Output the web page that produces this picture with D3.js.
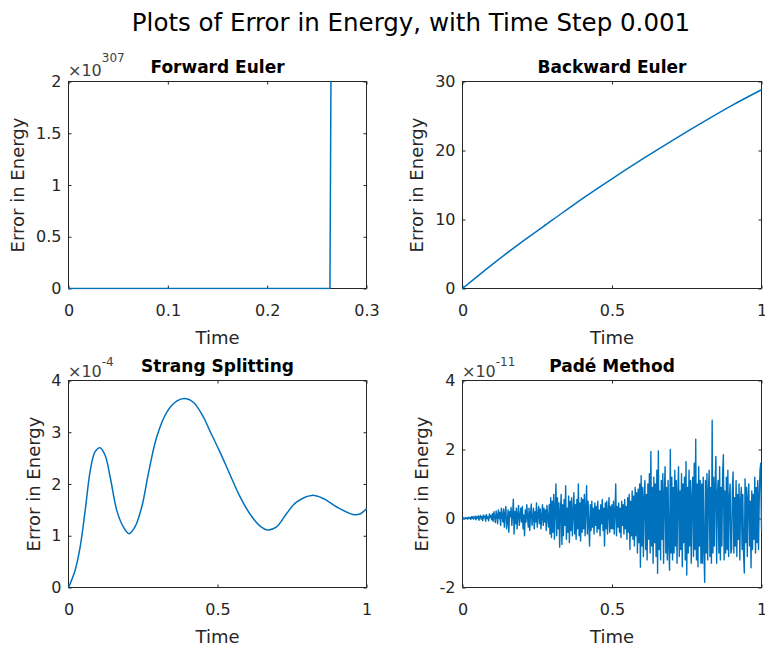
<!DOCTYPE html>
<html><head><meta charset="utf-8">
<script src="https://cdn.jsdelivr.net/npm/d3@7"></script>
<style>
body{margin:0;background:#fff}
svg{display:block}
text{font-family:"DejaVu Sans",sans-serif}
</style>
</head><body>
<svg id="chart" width="765" height="646"></svg>
<script>
// ---------------- data ----------------
const mainTitle = "Plots of Error in Energy, with Time Step 0.001";
const panelTitles = ["Forward Euler", "Backward Euler", "Strang Splitting", "Padé Method"];
const xLabel = "Time";
const yLabel = "Error in Energy";

// Forward Euler (values in units of 1e307)
const feTime = [0, 0.2632, 0.2642];
const feError = [0, 0, 2.0];
const feXTicks = [0, 0.1, 0.2, 0.3];
const feXLabels = ["0", "0.1", "0.2", "0.3"];
const feYTicks = [0, 0.5, 1, 1.5, 2];
const feYLabels = ["0", "0.5", "1", "1.5", "2"];
const feExponent = "307";

// Backward Euler
const beTime = [0, 0.1, 0.2, 0.3, 0.4, 0.5, 0.6, 0.7, 0.8, 0.9, 1.0];
const beError = [0, 3.5, 6.8, 9.9, 13.0, 15.9, 18.7, 21.4, 24.0, 26.5, 28.8];
const beXTicks = [0, 0.5, 1];
const beXLabels = ["0", "0.5", "1"];
const beYTicks = [0, 10, 20, 30];
const beYLabels = ["0", "10", "20", "30"];

// Strang Splitting (values in units of 1e-4)
const ssTime = [0, 0.022, 0.039, 0.056, 0.073, 0.089, 0.106, 0.123, 0.140, 0.162, 0.184, 0.203,
  0.223, 0.246, 0.268, 0.296, 0.330, 0.363, 0.391, 0.419, 0.452, 0.475, 0.508, 0.542, 0.575,
  0.609, 0.642, 0.670, 0.698, 0.732, 0.765, 0.816, 0.855, 0.899, 0.955, 0.978, 1.0];
const ssError = [0, 0.33, 0.78, 1.49, 2.26, 2.62, 2.70, 2.55, 2.13, 1.49, 1.17, 1.04,
  1.17, 1.56, 2.20, 2.91, 3.39, 3.60, 3.65, 3.58, 3.30, 3.02, 2.62, 2.18, 1.76,
  1.42, 1.19, 1.11, 1.17, 1.43, 1.65, 1.78, 1.72, 1.56, 1.41, 1.42, 1.52];
const ssXTicks = [0, 0.5, 1];
const ssXLabels = ["0", "0.5", "1"];
const ssYTicks = [0, 1, 2, 3, 4];
const ssYLabels = ["0", "1", "2", "3", "4"];
const ssExponent = "-4";

// Padé Method (values in units of 1e-11), sampled every 0.0025 in time
const pmError = [
  0, 0.02, -0.01, 0.01, 0.03, 0.0, 0.02, -0.02, 0.04, 0.01, 0.03, -0.03, 0.05, 0.0, 0.06, -0.02, 0.03, 0.07, -0.04, 0.05,
  0.01, 0.08, -0.05, 0.04, 0.09, -0.02, 0.06, -0.06, 0.1, 0.02, 0.07, -0.08, 0.12, 0.0, 0.05, -0.07, 0.13, 0.03, 0.09, -0.04,
  0.14, -0.08, 0.2, 0.05, -0.12, 0.22, 0.1, -0.15, 0.25, 0.0, 0.18, -0.2, 0.3, 0.08, -0.1, 0.28, -0.25, 0.15, 0.35, -0.3,
  -0.1, 0.25, -0.4, 0.2, 0.05, 0.32, -0.2, 0.1, 0.56, -0.45, 0.2, -0.15, 0.3, -0.3, 0.12, 0.38, -0.2, 0.05, 0.3, -0.1,
  0.35, -0.3, 0.1, -0.5, 0.25, -0.1, 0.4, 0.05, -0.25, 0.3, -0.35, 0.15, 0.42, -0.2, 0.0, 0.3, -0.3, 0.2, -0.1, 0.45,
  -0.25, 0.1, 0.35, -0.15, 0.28, -0.3, 0.05, 0.4, -0.2, 0.3, -0.1, 0.25, -0.35, 0.38, 0.0, -0.25, 0.4, -0.45, 0.6, -0.55,
  0.5, -0.4, 0.7, -0.6, 0.3, 1.0, -0.5, 0.6, -0.3, 0.45, -0.83, 0.2, 0.7, -0.75, 0.4, -0.5, 0.55, -0.2, 0.95, -0.6,
  0.3, -0.4, 0.65, -0.7, 0.5, -0.35, 0.6, -0.5, 0.2, 0.75, -0.45, 0.4, -0.6, 0.55, -0.3, 1.0, -0.5, 0.45, -0.65, 0.6,
  -0.4, 0.55, -0.3, 0.7, -0.5, 0.3, 0.95, -0.45, 0.5, -0.2, -0.8, 0.4, -0.35, 0.5, -0.25, 0.3, -0.45, 0.45, -0.2, 0.35,
  -0.4, 0.5, -0.3, 0.25, -0.5, 0.4, -0.15, 0.55, -0.35, 0.3, -0.8, 0.45, -0.3, 0.5, -0.45, 0.2, 0.6, -0.4, 0.35, -0.3,
  0.4, -0.3, 0.5, -0.45, 0.2, 1.0, -0.5, 0.35, -0.25, 0.45, -0.4, 0.3, -0.55, 0.5, -0.2, 0.4, -0.45, 0.55, -0.3, 0.35,
  -0.6, 0.6, -0.4, 0.7, -0.9, 0.5, -0.5, 0.8, -0.6, 0.65, -0.8, 0.9, -0.5, 0.75, -1.0, 0.85, -0.7, 1.0, -1.41, 1.24,
  -0.8, 0.9, -1.1, 0.6, 1.1, -0.9, 0.7, -1.2, 1.0, -0.6, 1.3, -1.0, 1.94, -0.8, 0.9, -1.3, 1.2, -0.7, 1.0, -1.1,
  1.4, -1.59, 1.96, -0.9, 0.8, -1.2, 1.1, -0.6, 1.3, -1.3, 0.7, 1.5, -1.0, 0.9, -1.2, 1.1, -0.8, -1.5, 2.0, -1.0,
  1.2, -1.2, 0.9, -1.0, 1.4, -0.8, 1.1, -1.3, 0.7, 1.5, -1.1, 0.8, -0.9, 1.3, -1.4, 1.0, -0.7, 1.2, -1.2, 1.65,
  -1.64, 0.9, -1.0, 1.4, -0.8, 1.1, -1.3, 0.6, 1.2, -1.1, 1.6, -0.9, 2.3, -1.2, 1.0, -1.4, 1.5, -0.8, 1.1, -1.3,
  1.0, -1.3, 1.2, -0.9, -1.85, 1.1, -1.0, 1.3, -1.2, 0.8, 1.4, -1.1, 0.9, -1.3, 2.85, -1.0, 1.2, -0.8, 1.0, 1.8,
  -1.3, 0.7, 1.1, -1.0, 1.5, -1.2, 0.9, -0.8, 1.3, 1.85, -1.2, 0.8, -1.0, 1.2, -0.9, 1.4, -1.1, 0.6, 1.0, -1.0,
  -0.9, 0.8, 1.35, -1.0, 0.6, -0.8, 1.1, -1.1, 0.7, -0.6, 1.0, -1.2, 0.5, 0.9, -0.9, 0.7, -1.0, -1.58, 1.15, -0.7,
  0.9, -1.1, 0.6, 1.0, -0.8, 0.5, -1.43, 0.8, -0.9, 0.7, -0.6, 1.2, -1.0, 0.9, -0.7, 1.1, -0.9, 0.6, 1.4, 1.6,
  -0.35
];
const pmTimeStep = 0.0025;
const pmTime = pmError.map((d, i) => i * pmTimeStep);
const pmXTicks = [0, 0.5, 1];
const pmXLabels = ["0", "0.5", "1"];
const pmYTicks = [-2, 0, 2, 4];
const pmYLabels = ["-2", "0", "2", "4"];
const pmExponent = "-11";

// ---------------- layout ----------------
const svg = d3.select("#chart");
const lineColor = "#0072BD";
const axisColor = "#262626";

const panels = [
  {title: panelTitles[0], t: feTime, v: feError, xd: [0, 0.3], yd: [0, 2],
   xt: feXTicks, xl: feXLabels, yt: feYTicks, yl: feYLabels, exp: feExponent,
   box: {l: 68.5, r: 366.5, t: 81.5, b: 288.5}, ylx: 23.5, expY: 76, expDy: -14, lw: 1.5, curve: d3.curveLinear},
  {title: panelTitles[1], t: beTime, v: beError, xd: [0, 1], yd: [0, 30],
   xt: beXTicks, xl: beXLabels, yt: beYTicks, yl: beYLabels, exp: null,
   box: {l: 462.5, r: 761.5, t: 81.5, b: 288.5}, ylx: 423, lw: 1.5, curve: d3.curveCatmullRom.alpha(0.5)},
  {title: panelTitles[2], t: ssTime, v: ssError, xd: [0, 1], yd: [0, 4],
   xt: ssXTicks, xl: ssXLabels, yt: ssYTicks, yl: ssYLabels, exp: ssExponent,
   box: {l: 68.5, r: 366.5, t: 380.5, b: 587.5}, ylx: 40, expY: 377, expDy: -11, lw: 1.5, curve: d3.curveCatmullRom.alpha(0.5)},
  {title: panelTitles[3], t: pmTime, v: pmError, xd: [0, 1], yd: [-2, 4],
   xt: pmXTicks, xl: pmXLabels, yt: pmYTicks, yl: pmYLabels, exp: pmExponent,
   box: {l: 462.5, r: 761.5, t: 380.5, b: 587.5}, ylx: 428, expY: 377, expDy: -11, lw: 1.4, curve: d3.curveLinear}
];

svg.append("text")
  .attr("x", 411).attr("y", 31)
  .attr("text-anchor", "middle")
  .attr("font-size", 24.5)
  .attr("fill", "#000")
  .text(mainTitle);

panels.forEach((p, idx) => {
  const b = p.box;
  const x = d3.scaleLinear().domain(p.xd).range([b.l, b.r]);
  const y = d3.scaleLinear().domain(p.yd).range([b.b, b.t]);
  const g = svg.append("g");

  // clip (slightly larger than the box so edge lines stay visible)
  const cid = "clip" + idx;
  svg.append("clipPath").attr("id", cid).append("rect")
    .attr("x", b.l - 1).attr("y", b.t - 1).attr("width", b.r - b.l + 2).attr("height", b.b - b.t + 2);

  // axes
  const fmtX = (d, i) => p.xl[i];
  const fmtY = (d, i) => p.yl[i];
  const ax = g.append("g").attr("transform", `translate(0,${b.b})`)
    .call(d3.axisBottom(x).tickValues(p.xt).tickFormat(fmtX).tickSize(-3).tickPadding(16));
  const axT = g.append("g").attr("transform", `translate(0,${b.t})`)
    .call(d3.axisTop(x).tickValues(p.xt).tickFormat("").tickSize(-3));
  const ay = g.append("g").attr("transform", `translate(${b.l},0)`)
    .call(d3.axisLeft(y).tickValues(p.yt).tickFormat(fmtY).tickSize(-3).tickPadding(7));
  const ayR = g.append("g").attr("transform", `translate(${b.r},0)`)
    .call(d3.axisRight(y).tickValues(p.yt).tickFormat("").tickSize(-3));
  [ax, axT, ay, ayR].forEach(a => {
    a.select(".domain").remove();
    a.selectAll(".tick line").attr("stroke", axisColor).attr("stroke-width", 1);
    a.selectAll(".tick text").attr("fill", axisColor).attr("font-size", 16)
      .attr("font-family", '"DejaVu Sans", sans-serif');
  });

  // frame
  g.append("rect")
    .attr("x", b.l).attr("y", b.t).attr("width", b.r - b.l).attr("height", b.b - b.t)
    .attr("fill", "none").attr("stroke", axisColor).attr("stroke-width", 1);

  // data line (drawn over the frame, like the reference)
  const line = d3.line().x((d, i) => x(p.t[i])).y(d => y(d)).curve(p.curve);
  g.append("path")
    .datum(p.v)
    .attr("clip-path", `url(#${cid})`)
    .attr("d", line)
    .attr("fill", "none")
    .attr("stroke", lineColor)
    .attr("stroke-width", p.lw)
    .attr("stroke-linejoin", "round");

  // title
  g.append("text")
    .attr("x", (b.l + b.r) / 2).attr("y", b.t - 9)
    .attr("text-anchor", "middle")
    .attr("font-size", 17).attr("font-weight", "bold").attr("fill", "#000")
    .text(p.title);

  // x label
  g.append("text")
    .attr("x", (b.l + b.r) / 2).attr("y", b.b + 55)
    .attr("text-anchor", "middle")
    .attr("font-size", 18).attr("fill", axisColor)
    .text(xLabel);

  // y label
  g.append("text")
    .attr("transform", `translate(${p.ylx},${(b.t + b.b) / 2}) rotate(-90)`)
    .attr("text-anchor", "middle")
    .attr("font-size", 18).attr("fill", axisColor)
    .text(yLabel);

  // exponent
  if (p.exp) {
    const e = g.append("text")
      .attr("x", b.l - 0.5).attr("y", p.expY)
      .attr("font-size", 16).attr("fill", "#404040");
    e.append("tspan").text("×10");
    e.append("tspan").attr("dy", p.expDy).attr("font-size", 12).text(p.exp);
  }
});
</script>
</body></html>
